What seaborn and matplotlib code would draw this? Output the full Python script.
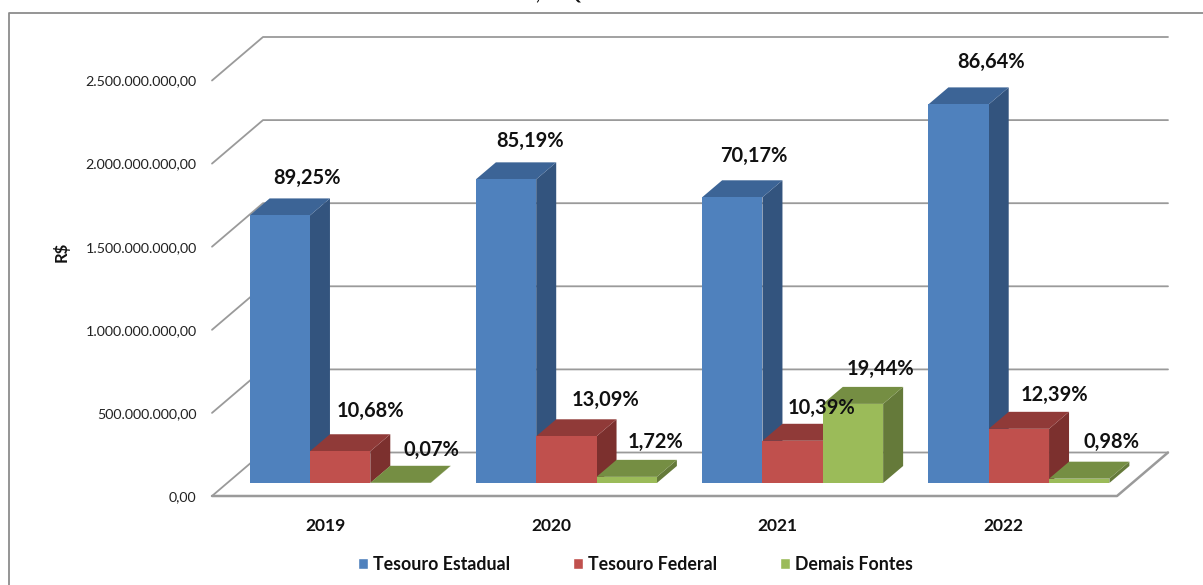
import pandas as pd
import seaborn as sns
import matplotlib
matplotlib.use("Agg")
import matplotlib.pyplot as plt
from matplotlib.lines import Line2D
from matplotlib.patches import Polygon
from matplotlib.transforms import Affine2D, IdentityTransform

# ---- data ----
years = ["2019", "2020", "2021", "2022"]
series_names = ["Tesouro Estadual", "Tesouro Federal", "Demais Fontes"]
tesouro_estadual = [1610e6, 1827e6, 1719e6, 2278e6]
tesouro_federal = [191e6, 281e6, 254e6, 326e6]
demais_fontes = [1.3e6, 37e6, 476e6, 26e6]
pct_estadual = ["89,25%", "85,19%", "70,17%", "86,64%"]
pct_federal = ["10,68%", "13,09%", "10,39%", "12,39%"]
pct_demais = ["0,07%", "1,72%", "19,44%", "0,98%"]
y_ticks = [0, 500e6, 1000e6, 1500e6, 2000e6, 2500e6]
y_tick_labels = ["0,00", "500.000.000,00", "1.000.000.000,00",
                 "1.500.000.000,00", "2.000.000.000,00", "2.500.000.000,00"]

# ---- style ----
W, H = 1203, 585
front = ["#4F81BD", "#C0504D", "#9BBB59"]
side = ["#33547E", "#7C302E", "#657A3A"]
top = ["#3C6496", "#903A38", "#758E43"]
grid_col = "#9A9A9A"
wall = (51, 43.5)      # px depth of back wall
shift = (15, 13)       # px shift of bars into the floor
depth = (20, 17)       # px depth of a bar
# label offsets in px (dx, dy up) from the centre of each bar's front top edge
offs = [[(27, 37), (24, 38), (22, 41), (33, 42)],
        [(30, 40), (39, 36), (29, 33), (36, 34)],
        [(31, 33), (29, 35), (28, 35), (32, 37)]]

sns.set_theme(style="white")
plt.rcParams["font.family"] = ["Lato", "DejaVu Sans"]
plt.rcParams["text.color"] = "#111111"

df = pd.DataFrame({
    "ano": years * 3,
    "fonte": [s for s in series_names for _ in years],
    "valor": tesouro_estadual + tesouro_federal + demais_fontes,
})

fig = plt.figure(figsize=(W / 100, H / 100), dpi=100, facecolor="white")
ax = fig.add_axes([212 / W, (H - 496) / H, 905 / W, 415.5 / H])
ax.patch.set_visible(False)

sns.barplot(data=df, x="ano", y="valor", hue="fonte", hue_order=series_names,
            order=years, palette=front, saturation=1, width=0.8, gap=0,
            errorbar=None, ax=ax)
ax.set_xlim(-0.5, 3.5)
ax.set_ylim(0, 2.5e9)
ax.set_xlabel("")
ax.set_ylabel("")
for s in ax.spines.values():
    s.set_visible(False)

ax.set_yticks(y_ticks, y_tick_labels)
ax.tick_params(axis="y", length=0, pad=11, labelsize=10.3, labelcolor="#222222")
ax.tick_params(axis="x", length=0, pad=16, labelsize=12.5, labelcolor="#111111")
for t in ax.get_xticklabels():
    t.set_fontweight("bold")

fig.canvas.draw()
ident = IdentityTransform()
to_px = ax.transData

# back wall, left wall and floor lines
x0 = to_px.transform((-0.5, 0))[0]
x1 = to_px.transform((3.5, 0))[0]
for v in y_ticks:
    yd = to_px.transform((0, v))[1]
    ax.add_line(Line2D([x0, x0 + wall[0], x1 + wall[0]],
                       [yd, yd + wall[1], yd + wall[1]],
                       transform=ident, color=grid_col, lw=1.3, zorder=1, clip_on=False))
yd = to_px.transform((0, 0))[1]
ax.add_line(Line2D([x0, x1, x1 + wall[0]], [yd, yd, yd + wall[1]],
                   transform=ident, color=grid_col, lw=1.8, zorder=1, clip_on=False))

# 3-D faces built from the seaborn bars
offset = Affine2D().translate(*shift)
dx, dy = depth
for i, cont in enumerate(ax.containers):
    base_z = 3 + i * 2
    for j, bar in enumerate(cont):
        (xa, ya), (xb, yb) = to_px.transform(bar.get_bbox().get_points())
        xa, xb, ya, yb = xa + shift[0], xb + shift[0], ya + shift[1], yb + shift[1]
        bar.set_transform(ax.transData + offset)
        bar.set_zorder(base_z + 1)
        bar.set_edgecolor("none")
        bar.set_clip_on(False)
        ax.add_patch(Polygon([(xb, ya), (xb + dx, ya + dy), (xb + dx, yb + dy), (xb, yb)],
                             transform=ident, fc=side[i], ec="none", zorder=base_z, clip_on=False))
        ax.add_patch(Polygon([(xa, yb), (xb, yb), (xb + dx, yb + dy), (xa + dx, yb + dy)],
                             transform=ident, fc=top[i], ec="none", zorder=base_z, clip_on=False))
        ox, oy = offs[i][j]
        txt = [pct_estadual, pct_federal, pct_demais][i][j]
        ax.text((xa + xb) / 2 + ox, yb + oy, txt, transform=ident, ha="center", va="center",
                fontsize=14.4, fontweight="bold", color="#111111", zorder=20, clip_on=False)

# legend
sns.move_legend(ax, "center", bbox_to_anchor=(635.5 / W, (H - 564) / H),
                bbox_transform=fig.transFigure, ncol=3, frameon=False, title=None,
                fontsize=12.8, handlelength=0.58, handleheight=0.58, handletextpad=0.3,
                columnspacing=3.5)
for t in ax.get_legend().get_texts():
    t.set_fontweight("bold")

# y-axis title, chart frame and the cut-off title at the top edge
fig.text(61 / W, (H - 252) / H, "R$", rotation=90, ha="center", va="center",
         fontsize=12, fontweight="bold")
fig.add_artist(Line2D([8.5 / W, 8.5 / W, 1], [0, (H - 13) / H, (H - 13) / H],
                      transform=fig.transFigure, color="#8C8C8C", lw=1.3))
fig.text(558 / W, (H + 1) / H, ",      Q", ha="center", va="baseline",
         fontsize=13, fontweight="bold", clip_on=True)

fig.savefig("out.png", dpi=100, facecolor="white")
